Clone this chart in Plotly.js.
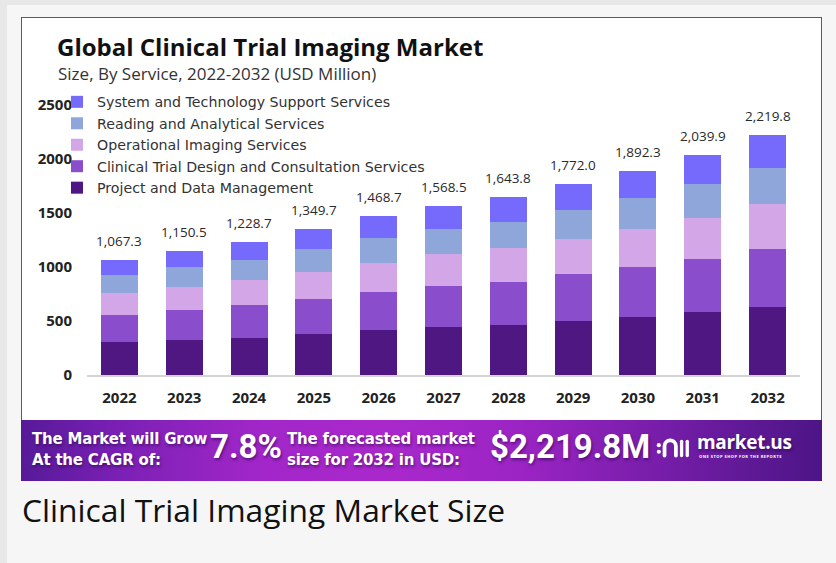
<!DOCTYPE html>
<html>
<head>
<meta charset="utf-8">
<script src="https://cdn.plot.ly/plotly-3.0.1.min.js"></script>
<style>
  html, body { margin:0; padding:0; width:836px; height:563px; overflow:hidden; background:#e8e8e8; }
  #panel { position:absolute; left:7px; top:5px; width:829px; height:560px; background:#f6f6f6; }
  #box { position:absolute; left:21px; top:17px; width:799px; height:402px; background:#fff;
         border:1.5px solid #7b38c6; border-bottom:none; }
  #banner { position:absolute; left:21px; top:420px; width:801px; height:61px;
    background:linear-gradient(90deg,#561a98 0%,#7a20b4 12%,#a226c9 30%,#a928cc 45%,#9c24c4 62%,#7a1eac 78%,#4c1586 100%); }
  .bt { position:absolute; color:#fff; white-space:nowrap; text-shadow:1px 2px 3px rgba(40,0,70,0.55); }
  .small { font-family:'DejaVu Sans',sans-serif; font-weight:700; font-size:15px; line-height:21px; letter-spacing:-0.2px; }
  .big { font-family:'Roboto',sans-serif; font-weight:700; font-size:33px; line-height:36px; }
  #caption { position:absolute; left:22px; top:488px; font-family:'Open Sans',sans-serif; font-size:31.8px; color:#111; white-space:nowrap; }
  #chart { position:absolute; left:0; top:0; width:836px; height:563px; }
</style>
</head>
<body>
<div id="panel"></div>
<div id="box"></div>
<div id="banner"></div>
<div class="bt small" style="left:32px;top:429px;">The Market will Grow<br>At the CAGR of:</div>
<div class="bt big" style="left:210px;top:429px;">7.8%</div>
<div class="bt small" style="left:287px;top:429px;">The forecasted market<br>size for 2032 in USD:</div>
<div class="bt big" style="left:490px;top:429px;">$2,219.8M</div>
<svg class="bt" style="left:656px;top:436px;" width="36" height="24" viewBox="0 0 38 24">
  <circle cx="3" cy="9" r="2.2" fill="#fff"/>
  <circle cx="3" cy="16" r="2.2" fill="#fff"/>
  <path d="M9 20 V10 a6 6 0 0 1 12 0 V20" stroke="#fff" stroke-width="4" fill="none" stroke-linecap="round"/>
  <line x1="27" y1="5" x2="27" y2="20" stroke="#fff" stroke-width="3.5" stroke-linecap="round"/>
  <line x1="33" y1="5" x2="33" y2="20" stroke="#fff" stroke-width="3.5" stroke-linecap="round"/>
</svg>
<div class="bt" style="left:697px;top:431px;font-family:'Open Sans',sans-serif;font-weight:700;font-size:19px;line-height:22px;letter-spacing:-0.3px;">market.us</div>
<div class="bt" style="left:699px;top:454px;font-family:'Open Sans',sans-serif;font-weight:700;font-size:4px;line-height:5px;letter-spacing:0.5px;text-shadow:none;">ONE STOP SHOP FOR THE REPORTS</div>
<div id="caption">Clinical Trial Imaging Market Size</div>
<div id="chart"></div>
<script>
const years = ['2022','2023','2024','2025','2026','2027','2028','2029','2030','2031','2032'];
const projectData = [304, 328, 346.6, 383, 416, 441.5, 466.6, 503, 538, 580, 630];
const trialDesign = [254, 272, 297, 324, 351, 383, 395.5, 432, 457.6, 494, 540];
const operationalImaging = [202, 216.5, 232, 250, 274, 293, 312, 327, 352.5, 383, 414];
const readingAnalytical = [164, 179, 186, 210, 225, 235, 247, 269, 294, 309, 336.5];
const systemSupport = [143.3, 155, 167.1, 182.7, 202.7, 216, 222.7, 241, 250.2, 273.9, 299.3];
const totals = [1067.3, 1150.5, 1228.7, 1349.7, 1468.7, 1568.5, 1643.8, 1772.0, 1892.3, 2039.9, 2219.8];
const totalLabels = ['1,067.3','1,150.5','1,228.7','1,349.7','1,468.7','1,568.5','1,643.8','1,772.0','1,892.3','2,039.9','2,219.8'];
const seriesNames = ['Project and Data Management','Clinical Trial Design and Consultation Services','Operational Imaging Services','Reading and Analytical Services','System and Technology Support Services'];
const seriesColors = ['#4e1782','#8a4dcc','#d3a6e8','#8fa6da','#756afb'];
const seriesValues = [projectData, trialDesign, operationalImaging, readingAnalytical, systemSupport];
const yTicks = [0, 500, 1000, 1500, 2000, 2500];

const traces = seriesValues.map((v, i) => ({
  type:'bar', x: years, y: v, name: seriesNames[i],
  marker:{color: seriesColors[i], line:{width:0}}, hoverinfo:'skip'
}));

const annotations = years.map((yr, i) => ({
  x: i, y: totals[i], xref:'x', yref:'y', text: totalLabels[i], showarrow:false,
  yanchor:'bottom', yshift:8, font:{family:'Open Sans', size:13.5, color:'#2a2a2a'}
}));
annotations.push({
  xref:'paper', yref:'paper', x:-0.043, y:1.115, xanchor:'left', yanchor:'middle',
  text:'Size, By Service, 2022-2032 (USD Million)', showarrow:false,
  font:{family:'Open Sans', size:17, color:'#333'}
});

const layout = {
  width:836, height:563,
  margin:{l:87, r:36, t:105, b:188, pad:0},
  paper_bgcolor:'rgba(0,0,0,0)', plot_bgcolor:'rgba(0,0,0,0)',
  barmode:'stack', bargap:0.43,
  title:{text:'<b>Global Clinical Trial Imaging Market</b>', xref:'container', yref:'container',
         x:57/836, xanchor:'left', y:1-48/563, yanchor:'middle',
         font:{family:'Open Sans', size:24, color:'#111'}},
  xaxis:{type:'category', categoryorder:'array', categoryarray:years, range:[-0.5, 10.5],
         showgrid:false, showline:true, linecolor:'#d4d4d4', linewidth:1.5,
         ticks:'', ticklabelstandoff:8, tickfont:{family:'Open Sans', size:15, weight:700, color:'#222'}, fixedrange:true},
  yaxis:{range:[0,2500], tickvals:yTicks, showgrid:false, zeroline:false, showline:false,
         ticks:'', ticklabelstandoff:14, tickfont:{family:'Open Sans', size:15, weight:700, color:'#222'}, fixedrange:true},
  legend:{x:(57-87)/713, y:1.07, xanchor:'left', yanchor:'top', traceorder:'reversed', bgcolor:'rgba(0,0,0,0)',
          font:{family:'DejaVu Sans', size:14.2, color:'#333'}, itemclick:false},
  showlegend:true,
  annotations: annotations
};
Plotly.newPlot('chart', traces, layout, {displayModeBar:false, staticPlot:true});
</script>
</body>
</html>
